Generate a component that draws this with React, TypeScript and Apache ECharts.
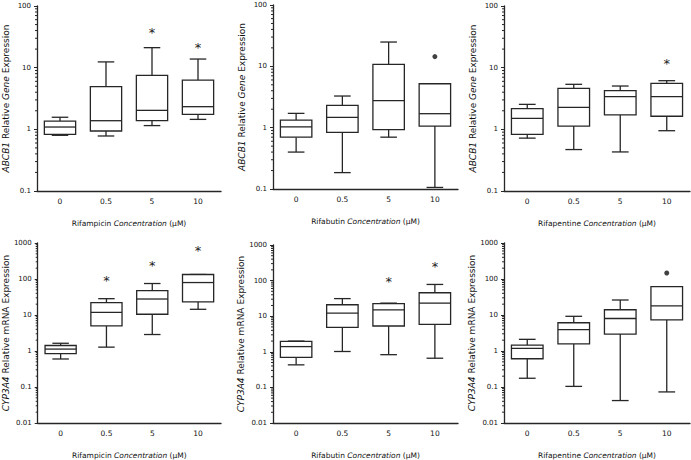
import React, { useEffect, useRef } from 'react';
import * as echarts from 'echarts';

const concentrations = ['0', '0.5', '5', '10'];
const topYTicks = [0.1, 1, 10, 100];
const bottomYTicks = [0.01, 0.1, 1, 10, 100, 1000];

// [min, Q1, median, Q3, max] per concentration
const abcb1Rifampicin = [
  [0.80, 0.83, 1.09, 1.36, 1.57],
  [0.78, 0.94, 1.38, 4.92, 12.4],
  [1.15, 1.38, 2.03, 7.5, 21.1],
  [1.45, 1.75, 2.33, 6.3, 13.8],
];
const abcb1RifampicinStars = [null, null, 37, 21];
const abcb1RifampicinOutliers = [null, null, null, null];

const abcb1Rifabutin = [
  [0.40, 0.70, 1.03, 1.33, 1.71],
  [0.185, 0.84, 1.47, 2.31, 3.28],
  [0.70, 0.93, 2.75, 10.8, 24.9],
  [0.106, 1.06, 1.69, 5.2, 5.2],
];
const abcb1RifabutinStars = [null, null, null, null];
const abcb1RifabutinOutliers = [null, null, null, 14.4];

const abcb1Rifapentine = [
  [0.72, 0.83, 1.51, 2.16, 2.54],
  [0.47, 1.13, 2.27, 4.62, 5.37],
  [0.43, 1.71, 3.39, 4.24, 5.04],
  [0.95, 1.63, 3.39, 5.57, 6.15],
];
const abcb1RifapentineStars = [null, null, null, 11.8];
const abcb1RifapentineOutliers = [null, null, null, null];

const cyp3a4Rifampicin = [
  [0.60, 0.85, 1.13, 1.42, 1.64],
  [1.28, 5.0, 11.9, 22.1, 28.4],
  [2.87, 10.5, 27.8, 47.5, 74.9],
  [14.4, 23.1, 79.7, 133.5, 133.5],
];
const cyp3a4RifampicinStars = [null, 88, 238, 615];
const cyp3a4RifampicinOutliers = [null, null, null, null];

const cyp3a4Rifabutin = [
  [0.43, 0.70, 1.40, 1.95, 2.0],
  [1.02, 4.88, 12.2, 21.0, 31.2],
  [0.83, 5.3, 15.1, 22.7, 23.3],
  [0.66, 5.89, 23.3, 45.5, 78],
];
const cyp3a4RifabutinStars = [null, null, 94, 251];
const cyp3a4RifabutinOutliers = [null, null, null, null];

const cyp3a4Rifapentine = [
  [0.175, 0.61, 1.18, 1.45, 2.11],
  [0.104, 1.58, 3.94, 6.1, 9.2],
  [0.042, 2.95, 8.0, 14.0, 26.1],
  [0.073, 7.35, 18.0, 61.2, 61.2],
];
const cyp3a4RifapentineStars = [null, null, null, null];
const cyp3a4RifapentineOutliers = [null, null, null, 146.6];

const LINE = '#262626';
const FONT = 'DejaVu Sans';

type Panel = {
  boxes: number[][];
  stars: (number | null)[];
  outliers: (number | null)[];
  drug: string;
  yTitle: string;
  ticks: number[];
  grid: { left: number; top: number; width: number; height: number };
};

const panels: Panel[] = [
  { boxes: abcb1Rifampicin, stars: abcb1RifampicinStars, outliers: abcb1RifampicinOutliers, drug: 'Rifampicin', yTitle: '{i|ABCB1} Relative {i|Gene} Expression', ticks: topYTicks, grid: { left: 34, top: 6, width: 187, height: 185 } },
  { boxes: abcb1Rifabutin, stars: abcb1RifabutinStars, outliers: abcb1RifabutinOutliers, drug: 'Rifabutin', yTitle: '{i|ABCB1} Relative {i|Gene} Expression', ticks: topYTicks, grid: { left: 273, top: 5, width: 185, height: 184 } },
  { boxes: abcb1Rifapentine, stars: abcb1RifapentineStars, outliers: abcb1RifapentineOutliers, drug: 'Rifapentine', yTitle: '{i|ABCB1} Relative {i|Gene} Expression', ticks: topYTicks, grid: { left: 504, top: 6, width: 186, height: 185 } },
  { boxes: cyp3a4Rifampicin, stars: cyp3a4RifampicinStars, outliers: cyp3a4RifampicinOutliers, drug: 'Rifampicin', yTitle: '{i|CYP3A4} Relative mRNA Expression', ticks: bottomYTicks, grid: { left: 35, top: 243, width: 186, height: 186 } },
  { boxes: cyp3a4Rifabutin, stars: cyp3a4RifabutinStars, outliers: cyp3a4RifabutinOutliers, drug: 'Rifabutin', yTitle: '{i|CYP3A4} Relative mRNA Expression', ticks: bottomYTicks, grid: { left: 273, top: 245, width: 185, height: 184 } },
  { boxes: cyp3a4Rifapentine, stars: cyp3a4RifapentineStars, outliers: cyp3a4RifapentineOutliers, drug: 'Rifapentine', yTitle: '{i|CYP3A4} Relative mRNA Expression', ticks: bottomYTicks, grid: { left: 504, top: 243, width: 186, height: 185 } },
];

function minorTickValues(ticks: number[]): number[] {
  const out: number[] = [];
  for (let k = 0; k < ticks.length - 1; k++) {
    for (let m = 2; m <= 9; m++) out.push(+(ticks[k] * m).toPrecision(3));
  }
  return out;
}

const boxRender = (params: any, api: any) => {
  const cs = params.coordSys;
  const band = cs.width / concentrations.length;
  const i = api.value(0);
  const pt = (k: number) => api.coord([i, api.value(k)]);
  const cx = pt(3)[0];
  const yMin = pt(1)[1], yQ1 = pt(2)[1], yMed = pt(3)[1], yQ3 = pt(4)[1], yMax = pt(5)[1];
  const hw = band * 0.34;
  const cw = band * 0.18;
  const st = { stroke: LINE, lineWidth: 1.3, fill: 'none' };
  return {
    type: 'group',
    children: [
      { type: 'line', shape: { x1: cx, y1: yQ3, x2: cx, y2: yMax }, style: st },
      { type: 'line', shape: { x1: cx, y1: yQ1, x2: cx, y2: yMin }, style: st },
      { type: 'line', shape: { x1: cx - cw, y1: yMax, x2: cx + cw, y2: yMax }, style: st },
      { type: 'line', shape: { x1: cx - cw, y1: yMin, x2: cx + cw, y2: yMin }, style: st },
      { type: 'rect', shape: { x: cx - hw, y: yQ3, width: 2 * hw, height: yQ1 - yQ3 }, style: { stroke: LINE, lineWidth: 1.3, fill: '#fff' } },
      { type: 'line', shape: { x1: cx - hw, y1: yMed, x2: cx + hw, y2: yMed }, style: st },
    ],
  };
};

const minorRender = (params: any, api: any) => {
  const cs = params.coordSys;
  const y = api.coord([0, api.value(1)])[1];
  return { type: 'line', shape: { x1: cs.x - 2, y1: y, x2: cs.x, y2: y }, style: { stroke: LINE, lineWidth: 1 } };
};

const starRender = (params: any, api: any) => {
  const p = api.coord([api.value(0), api.value(1)]);
  return {
    type: 'text',
    x: p[0],
    y: p[1],
    style: { text: '*', fontSize: 13, fontFamily: FONT, fill: '#222', align: 'center', verticalAlign: 'middle' },
  };
};

export default function App() {
  const ref = useRef<HTMLDivElement>(null);
  useEffect(() => {
    if (!ref.current) return;
    const chart = echarts.init(ref.current, undefined, { renderer: 'svg' });
    const grids: any[] = [];
    const xAxes: any[] = [];
    const yAxes: any[] = [];
    const series: any[] = [];
    panels.forEach((p, idx) => {
      grids.push({ ...p.grid, containLabel: false });
      xAxes.push({
        type: 'category',
        gridIndex: idx,
        data: concentrations,
        name: `${p.drug} {i|Concentration} (μM)`,
        nameLocation: 'middle',
        nameGap: 28,
        nameTextStyle: {
          fontFamily: FONT, fontSize: 7.5, color: '#111',
          rich: { i: { fontStyle: 'italic', fontFamily: FONT, fontSize: 7.5, color: '#111' } },
        },
        axisLine: { lineStyle: { color: LINE, width: 1.3 } },
        axisTick: { alignWithLabel: true, length: 3, lineStyle: { color: LINE } },
        axisLabel: { fontFamily: FONT, fontSize: 7.5, color: '#111', margin: 6 },
        splitLine: { show: false },
      });
      yAxes.push({
        type: 'log',
        logBase: 10,
        gridIndex: idx,
        min: p.ticks[0],
        max: p.ticks[p.ticks.length - 1],
        name: p.yTitle,
        nameLocation: 'middle',
        nameGap: 27,
        nameTextStyle: {
          fontFamily: FONT, fontSize: 9, color: '#111',
          rich: { i: { fontStyle: 'italic', fontFamily: FONT, fontSize: 9, color: '#111' } },
        },
        axisLine: { show: true, lineStyle: { color: LINE, width: 1.3 } },
        axisTick: { show: true, length: 3, lineStyle: { color: LINE } },
        axisLabel: {
          fontFamily: FONT, fontSize: 7, color: '#111', margin: 6,
          formatter: (v: number) => String(+Number(v).toPrecision(3)),
        },
        splitLine: { show: false },
      });
      series.push({
        type: 'custom',
        xAxisIndex: idx,
        yAxisIndex: idx,
        renderItem: minorRender,
        data: minorTickValues(p.ticks).map((v) => [0, v]),
        encode: { x: 0, y: 1 },
        itemStyle: { color: LINE },
        clip: false,
        silent: true,
      });
      series.push({
        type: 'custom',
        xAxisIndex: idx,
        yAxisIndex: idx,
        renderItem: boxRender,
        data: p.boxes.map((b, i) => [i, ...b]),
        encode: { x: 0, y: [1, 2, 3, 4, 5] },
        itemStyle: { color: LINE },
        clip: false,
      });
      series.push({
        type: 'custom',
        xAxisIndex: idx,
        yAxisIndex: idx,
        renderItem: starRender,
        data: p.stars.map((s, i) => (s == null ? null : [i, s])).filter((d) => d != null),
        encode: { x: 0, y: 1 },
        itemStyle: { color: '#222' },
        clip: false,
      });
      series.push({
        type: 'scatter',
        xAxisIndex: idx,
        yAxisIndex: idx,
        symbol: 'circle',
        symbolSize: 5,
        itemStyle: { color: '#111' },
        data: p.outliers.map((o, i) => (o == null ? null : [i, o])).filter((d) => d != null),
      });
    });
    chart.setOption({
      animation: false,
      backgroundColor: '#fff',
      grid: grids,
      xAxis: xAxes,
      yAxis: yAxes,
      series,
    });
    return () => chart.dispose();
  }, []);
  return (
    <div
      ref={ref}
      style={{ position: 'fixed', left: 0, top: 0, width: 691, height: 460, background: '#fff' }}
    />
  );
}
